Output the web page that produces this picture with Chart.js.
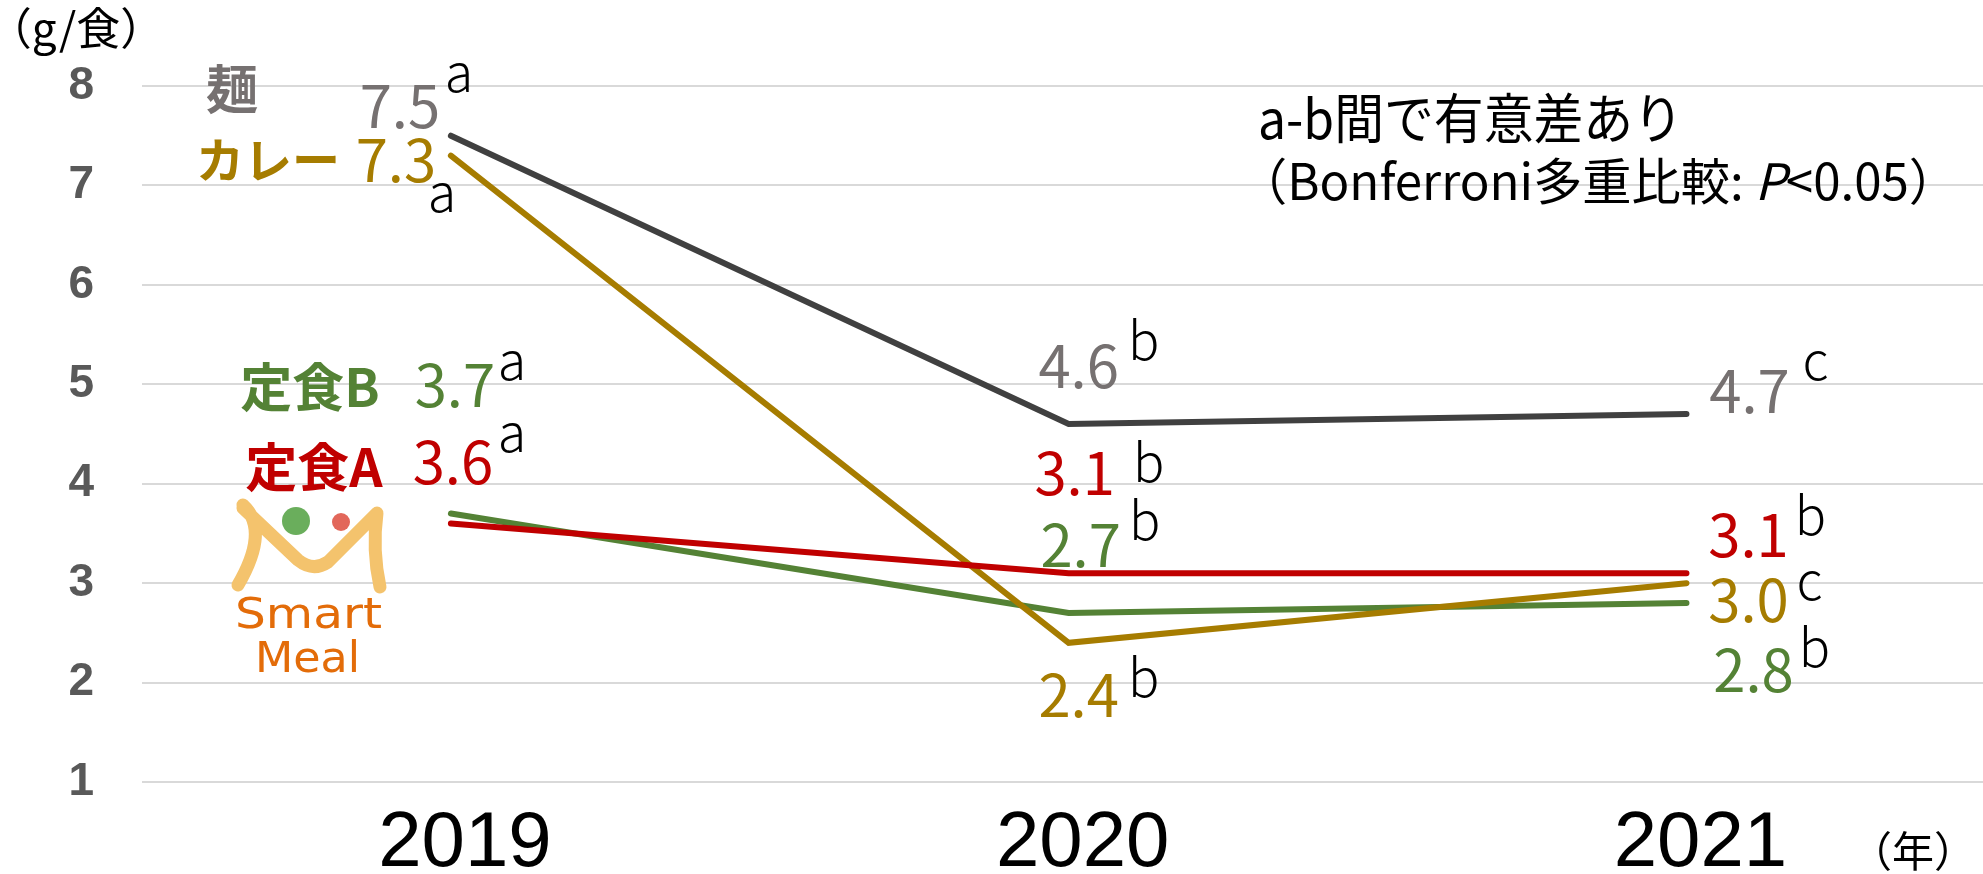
<!DOCTYPE html>
<html lang="ja">
<head>
<meta charset="utf-8">
<title>メニュー別 食塩相当量の推移</title>
<script src="https://cdn.jsdelivr.net/npm/chart.js@4.4.1/dist/chart.umd.min.js"></script>
<style>
  html, body { margin: 0; padding: 0; background: #fff; }
  #wrap { width: 1983px; height: 874px; }
</style>
</head>
<body>
<div id="wrap"><canvas id="salt" width="1983" height="874"></canvas></div>
<script>
// Salt per meal (g/食) by menu, 2019–2021.
const years = [2019, 2020, 2021];
const yTicks = [1, 2, 3, 4, 5, 6, 7, 8];
const menuNames = ["麺", "定食A", "カレー", "定食B"];
const menMen = [7.5, 4.6, 4.7];
const menTeishokuA = [3.6, 3.1, 3.1];
const menCurry = [7.3, 2.4, 3.0];
const menTeishokuB = [3.7, 2.7, 2.8];
// Bonferroni group letters, one per year
const sigMen = ["a", "b", "c"];
const sigTeishokuA = ["a", "b", "b"];
const sigCurry = ["a", "b", "c"];
const sigTeishokuB = ["a", "b", "b"];
const noteLine1 = "a-b間で有意差あり";
const noteLine2 = ["（Bonferroni多重比較: ", "P", "<0.05）"];
const yUnit = "（g/食）";
const xUnit = "（年）";

const JP = '"Noto Sans CJK JP", "Noto Sans", sans-serif';

// per-series look + where its text sits relative to each point (px offsets)
const series = [
  { name: menuNames[0], values: menMen, sig: sigMen, line: "#404040", text: "#767171", nameSize: 52,
    nameAt: [-219, -46], valAt: [[-51, -8], [10, -36], [63, -1]], sigAt: [[8, -44], [75, -64], [129, -34]] },
  { name: menuNames[1], values: menTeishokuA, sig: sigTeishokuA, line: "#C00000", text: "#C00000", nameSize: 52,
    nameAt: [-137, -56], valAt: [[2, -39], [6, -78], [62, -16]], sigAt: [[61, -71], [80, -91], [124, -38]] },
  { name: menuNames[2], values: menCurry, sig: sigCurry, line: "#A67C00", text: "#A67C00", nameSize: 48,
    nameAt: [-183, 4], valAt: [[-55, 26], [10, 74], [62, 39]], sigAt: [[-9, 56], [75, 54], [123, 17]] },
  { name: menuNames[3], values: menTeishokuB, sig: sigTeishokuB, line: "#548235", text: "#548235", nameSize: 52,
    nameAt: [-141, -126], valAt: [[4, -107], [12, -46], [67, 89]], sigAt: [[61, -134], [76, -73], [128, 64]] },
];

// draw text squeezed/stretched horizontally to a given width
function fitText(ctx, parts, left, baseline, width) {
  let total = 0;
  parts.forEach(p => { ctx.font = p[1]; total += ctx.measureText(p[0]).width; });
  ctx.save();
  ctx.translate(left, baseline);
  ctx.scale(width / total, 1);
  ctx.textAlign = "left";
  ctx.textBaseline = "alphabetic";
  let cx = 0;
  parts.forEach(p => { ctx.font = p[1]; ctx.fillText(p[0], cx, 0); cx += ctx.measureText(p[0]).width; });
  ctx.restore();
}

function drawLogo(ctx, ox, oy) {
  ctx.save();
  ctx.translate(ox, oy);
  ctx.strokeStyle = "#F4C36D";
  ctx.lineWidth = 13;
  ctx.lineCap = "round";
  ctx.lineJoin = "round";
  ctx.beginPath();
  ctx.moveTo(13, 5); ctx.quadraticCurveTo(40, 30, 8, 85);
  ctx.moveTo(13, 8); ctx.lineTo(68, 60); ctx.quadraticCurveTo(83, 72, 98, 62); ctx.lineTo(147, 13);
  ctx.quadraticCurveTo(142, 50, 150, 87);
  ctx.stroke();
  ctx.fillStyle = "#6AAE5C";
  ctx.beginPath(); ctx.arc(66, 21, 14, 0, Math.PI * 2); ctx.fill();
  ctx.fillStyle = "#E2675A";
  ctx.beginPath(); ctx.arc(111, 22, 9, 0, Math.PI * 2); ctx.fill();
  ctx.fillStyle = "#E36C09";
  fitText(ctx, [["Smart", '42px "DejaVu Sans"']], 5, 128, 147);
  fitText(ctx, [["Meal", '42px "DejaVu Sans"']], 25, 172, 105);
  ctx.restore();
}

const annotate = {
  id: "annotate",
  afterDatasetsDraw(chart) {
    const { ctx, scales: { x, y } } = chart;
    ctx.save();
    series.forEach(s => {
      const px = years.map(yr => x.getPixelForValue(yr));
      const py = s.values.map(v => y.getPixelForValue(v));
      ctx.textAlign = "center";
      ctx.textBaseline = "middle";
      ctx.fillStyle = s.text;
      ctx.font = `bold ${s.nameSize}px ${JP}`;
      ctx.fillText(s.name, px[0] + s.nameAt[0], py[0] + s.nameAt[1]);
      ctx.textBaseline = "alphabetic";
      s.values.forEach((v, i) => {
        ctx.fillStyle = s.text;
        ctx.font = `58px ${JP}`;
        ctx.fillText(v.toFixed(1), px[i] + s.valAt[i][0], py[i] + s.valAt[i][1]);
        ctx.fillStyle = "#000";
        ctx.font = `300 52px ${JP}`;
        ctx.fillText(s.sig[i], px[i] + s.sigAt[i][0], py[i] + s.sigAt[i][1]);
      });
    });

    // significance note, top right
    ctx.fillStyle = "#000";
    fitText(ctx, [[noteLine1, `54px ${JP}`]], 1258, 139, 425);
    fitText(ctx, [[noteLine2[0], `50px ${JP}`], [noteLine2[1], `italic 50px ${JP}`], [noteLine2[2], `50px ${JP}`]],
      1238, 200, 720);

    // unit captions
    ctx.textAlign = "center";
    ctx.textBaseline = "middle";
    ctx.font = `44px ${JP}`;
    ctx.fillText(yUnit, 76, 28);
    ctx.font = `42px ${JP}`;
    ctx.fillText(xUnit, 1913, 851);

    drawLogo(ctx, 230, 500);
    ctx.restore();
  }
};

new Chart(document.getElementById("salt"), {
  type: "line",
  data: {
    datasets: series.map(s => ({
      label: s.name,
      data: years.map((yr, i) => ({ x: yr, y: s.values[i] })),
      borderColor: s.line,
      borderWidth: 6,
      borderCapStyle: "round",
      pointRadius: 0,
      tension: 0,
      fill: false,
    })),
  },
  options: {
    responsive: false,
    animation: false,
    devicePixelRatio: 1,
    layout: { padding: { top: 86, left: 0, right: 0, bottom: 0 } },
    plugins: { legend: { display: false }, tooltip: { enabled: false } },
    scales: {
      x: {
        type: "linear",
        min: 2018.5,
        max: 2021.48,
        afterBuildTicks: s => { s.ticks = years.map(v => ({ value: v })); },
        afterFit: s => { s.height = 92; },
        grid: { display: false },
        border: { display: false },
        ticks: {
          color: "#000",
          font: { family: '"Liberation Sans", Arial, sans-serif', size: 78 },
          padding: 8,
          labelOffset: 14,
          maxRotation: 0,
          callback: v => String(v),
        },
      },
      y: {
        min: 1,
        max: 8,
        afterBuildTicks: s => { s.ticks = yTicks.map(v => ({ value: v })); },
        afterFit: s => { s.width = 142; },
        grid: { color: "#D9D9D9", lineWidth: 2, drawTicks: false },
        border: { display: false },
        ticks: {
          color: "#595959",
          font: { family: '"Liberation Sans", Arial, sans-serif', size: 46, weight: "bold" },
          padding: 48,
        },
      },
    },
  },
  plugins: [annotate],
});
</script>
</body>
</html>
